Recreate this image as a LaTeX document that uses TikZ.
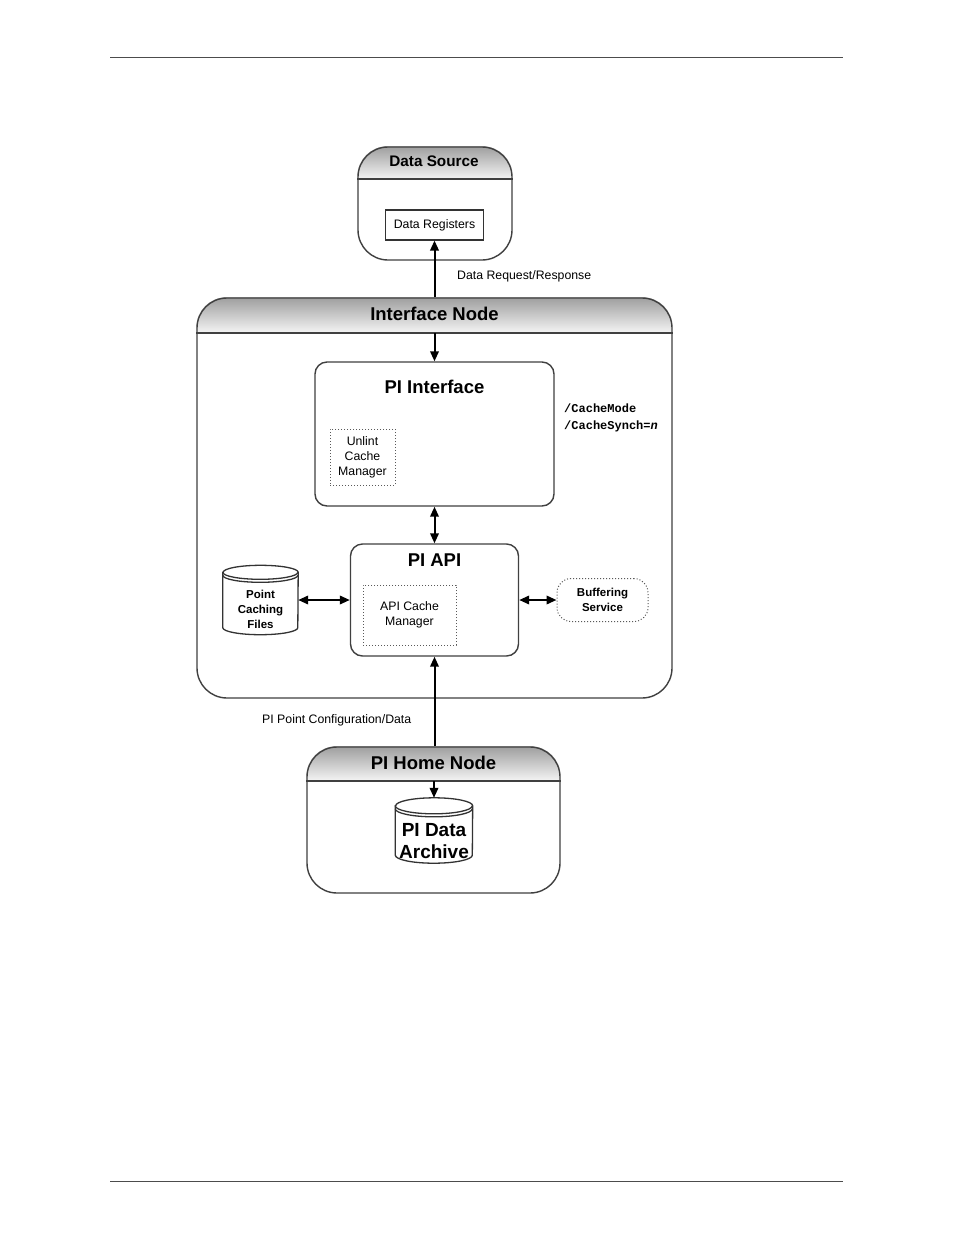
\documentclass[tikz,border=0pt]{standalone}
\usepackage{fontspec}
\setmainfont{Liberation Sans}
\newfontfamily\monofont{Liberation Mono}
\usetikzlibrary{arrows.meta,calc,backgrounds}
\newcommand\cylshape[3]{%
  \draw[cylst] ($(#1.north west)+(0,-#3)$) -- ($(#1.south west)+(0,#3)$)
    arc[start angle=180,end angle=360,x radius=#2pt,y radius=#3pt]
    -- ($(#1.north east)+(0,-#3)$)
    arc[start angle=0,end angle=180,x radius=#2pt,y radius=#3pt] -- cycle;
  \draw[cylst] ($(#1.north west)+(0,-#3)$) arc[start angle=180,end angle=360,x radius=#2pt,y radius=#3pt];
  \draw[cylst] ($(#1.north west)+(0,-#3-3)$) arc[start angle=180,end angle=360,x radius=#2pt,y radius=#3pt];
}
\begin{document}
\begin{tikzpicture}[x=1pt,y=1pt,
  cont/.style={draw=black!75,line width=1.4pt,rounded corners=30pt,inner sep=0pt},
  ibox/.style={draw=black!75,line width=1.4pt,rounded corners=12pt,inner sep=0pt},
  dotbox/.style={draw=black!65,dotted,line width=1pt,inner sep=0pt,align=center},
  ttl/.style={font=\bfseries\fontsize{18.5}{22}\selectfont,inner sep=0pt},
  txt/.style={font=\fontsize{12.3}{15}\selectfont,align=center,inner sep=0pt},
  btxt/.style={font=\bfseries\fontsize{11.5}{15}\selectfont,align=center,inner sep=0pt},
  sep/.style={draw=black!75,line width=1.4pt},
  arr/.style={line width=2pt,-{Triangle[length=10pt,width=8.5pt]}},
  darr/.style={line width=2pt,{Triangle[length=10pt,width=8.5pt]}-{Triangle[length=10pt,width=8.5pt]}},
  cylst/.style={draw=black!80,line width=1.3pt},
  hdr/.style={top color=black!38,bottom color=black!4},
  rule/.style={draw=black!70,line width=0.8pt}
]
\useasboundingbox (0,0) rectangle (954,-1235);
\begin{scope}[on background layer]
  \fill[white] (0,0) rectangle (954,-1235);
\end{scope}
% page rules
\draw[rule] (110,-57) -- (843,-57);
\draw[rule] (110,-1181) -- (843,-1181);

% Data Source
\node[cont,minimum width=154pt,minimum height=113pt] (ds) at (435,-203.5) {};
\coordinate (dsl) at (435,-179);
\draw[sep] (ds.west |- dsl) -- (ds.east |- dsl);
\node[ttl,font=\bfseries\fontsize{15.3}{18}\selectfont] (dst) at (434,-161) {Data Source};
\node[draw=black!80,line width=1.1pt,minimum width=98pt,minimum height=30pt,txt] (dr) at (434.5,-225) {Data Registers};
\node[txt,anchor=west] (drr) at (457,-276) {Data Request/Response};

% Interface Node
\node[cont,minimum width=475pt,minimum height=400pt] (inode) at (434.5,-498) {};
\coordinate (inl) at (434.5,-333);
\draw[sep] (inode.west |- inl) -- (inode.east |- inl);
\node[ttl] (inodet) at (434.5,-314) {Interface Node};

% PI Interface
\node[ibox,minimum width=239pt,minimum height=144pt] (pii) at (434.5,-434) {};
\node[ttl] (piit) at (434.5,-387) {PI Interface};
\node[dotbox,txt,minimum width=65pt,minimum height=56pt] (ucm) at (362.5,-457) {Unlint\\Cache\\Manager};
\node[anchor=west,font=\monofont\bfseries\fontsize{12}{14}\selectfont,inner sep=0pt] (cm) at (564,-408) {/CacheMode};
\node[anchor=west,font=\monofont\bfseries\fontsize{12}{14}\selectfont,inner sep=0pt] (cs) at (564,-426) {/CacheSynch=\textit{n}};

% PI API
\node[ibox,minimum width=168pt,minimum height=112pt] (api) at (434.5,-600) {};
\node[ttl] (apit) at (434.5,-560) {PI API};
\node[dotbox,txt,minimum width=93pt,minimum height=60pt] (acm) at (409.5,-615) {API Cache\\Manager};

% Point Caching Files
\node[minimum width=75pt,minimum height=69pt,inner sep=0pt] (pcf) at (260.5,-600) {};
\cylshape{pcf}{37.5}{7}
\node[btxt] (pcft) at (260.5,-609) {Point\\Caching\\Files};

% Buffering Service
\node[dotbox,btxt,rounded corners=14pt,minimum width=91pt,minimum height=43pt] (buf) at (602.5,-600) {Buffering\\Service};

% PI Home Node
\node[cont,minimum width=253pt,minimum height=146pt] (phn) at (433.5,-820) {};
\coordinate (phl) at (434,-781);
\draw[sep] (phn.west |- phl) -- (phn.east |- phl);
\node[ttl] (phnt) at (433.5,-763) {PI Home Node};
\node[minimum width=77pt,minimum height=65pt,inner sep=0pt] (pda) at (434,-830.5) {};
\cylshape{pda}{38.5}{8}
\node[font=\bfseries\fontsize{19}{22}\selectfont,align=center,inner sep=0pt] (pdat) at (434,-841) {PI Data\\Archive};
\node[txt,anchor=west] (pcd) at (262,-720) {PI Point Configuration/Data};

% header shadings
\begin{scope}[on background layer]
  \begin{scope}
    \clip[rounded corners=30pt] (ds.north west) rectangle (ds.south east);
    \shade[hdr] (ds.north west) rectangle (ds.east |- dsl);
  \end{scope}
  \begin{scope}
    \clip[rounded corners=30pt] (inode.north west) rectangle (inode.south east);
    \shade[hdr] (inode.north west) rectangle (inode.east |- inl);
  \end{scope}
  \begin{scope}
    \clip[rounded corners=30pt] (phn.north west) rectangle (phn.south east);
    \shade[hdr] (phn.north west) rectangle (phn.east |- phl);
  \end{scope}
\end{scope}

% connectors
\draw[arr] (inode.north) -- (dr.south);
\draw[arr] (inl) -- (pii.north);
\draw[darr] (pii.south) -- (api.north);
\draw[darr] (pcf.east) -- (api.west);
\draw[darr] (api.east) -- (buf.west);
\draw[arr] (phn.north -| api.south) -- (api.south);
\draw[arr] (phl) -- (pda.north);
\end{tikzpicture}
\end{document}
